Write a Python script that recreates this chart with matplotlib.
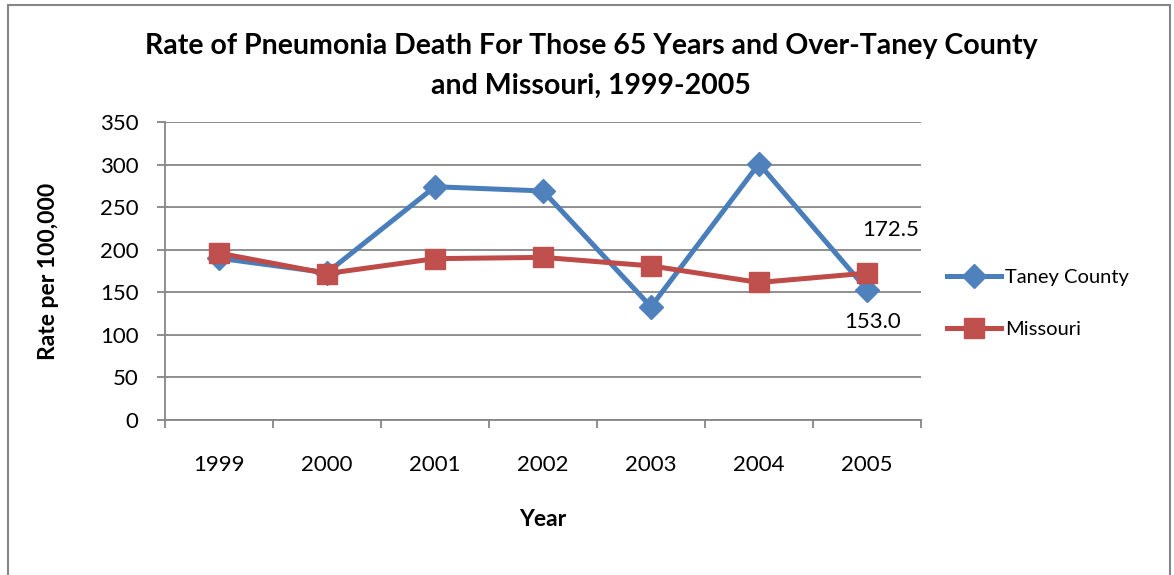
import matplotlib
matplotlib.use("Agg")
import matplotlib.pyplot as plt
from matplotlib.patches import Rectangle
import numpy as np

years = ["1999", "2000", "2001", "2002", "2003", "2004", "2005"]
taney = [190.0, 173.0, 274.0, 269.0, 133.0, 301.0, 153.0]
missouri = [196.0, 172.0, 189.5, 191.0, 181.0, 161.5, 172.5]
yticks = [0, 50, 100, 150, 200, 250, 300, 350]

plt.rcParams['font.family'] = ['Lato', 'DejaVu Sans']

fig = plt.figure(figsize=(11.74, 5.75), dpi=100)
fig.patch.set_facecolor('white')
fig.patches.append(Rectangle((8/1174, -0.05), (1170-8)/1174, 1 - 5/575 + 0.05,
                             transform=fig.transFigure, fill=False,
                             edgecolor='#868686', linewidth=1.5))

ax = fig.add_axes([165/1174, 1 - 420/575, (921-165)/1174, (420-122)/575])
x = np.arange(len(years))

ax.plot(x, taney, color='#4A7EBB', linewidth=3.6, marker='D', markersize=12,
        markerfacecolor='#4F81BD', markeredgecolor='#4F81BD', label='Taney County', zorder=3)
ax.plot(x, missouri, color='#BE4B48', linewidth=3.6, marker='s', markersize=14,
        markerfacecolor='#C0504D', markeredgecolor='#C0504D', label='Missouri', zorder=4)

ax.set_xlim(-0.5, len(years) - 0.5)
ax.set_ylim(0, 350)
ax.set_yticks(yticks)
ax.set_yticklabels([str(v) for v in yticks], fontsize=16)
ax.yaxis.grid(True, color='#868686', linewidth=1.3)
ax.set_axisbelow(True)

ax.set_xticks(x)
ax.set_xticklabels(years, fontsize=16)
ax.set_xticks(np.arange(-0.5, len(years)), minor=True)
ax.tick_params(axis='x', which='major', length=0, pad=25)
ax.tick_params(axis='x', which='minor', length=6, color='#868686', width=1.3, direction='out')
ax.tick_params(axis='y', length=6, color='#868686', width=1.3, pad=13)

for s in ['top', 'right']:
    ax.spines[s].set_visible(False)
ax.spines['left'].set_color('#868686')
ax.spines['left'].set_linewidth(1.3)
ax.spines['bottom'].set_color('#868686')
ax.spines['bottom'].set_linewidth(1.3)

ax.annotate(f"{missouri[-1]:.1f}", (x[-1], missouri[-1]), xytext=(17, 31),
            textcoords='offset points', ha='center', va='center', fontsize=16)
ax.annotate(f"{taney[-1]:.1f}", (x[-1], taney[-1]), xytext=(4, -23),
            textcoords='offset points', ha='center', va='center', fontsize=16)

ax.set_ylabel("Rate per 100,000", fontsize=16.5, fontweight='bold')
ax.yaxis.set_label_coords(-117/756, 0.5)
ax.set_xlabel("Year", fontsize=16.5, fontweight='bold')
ax.xaxis.set_label_coords(0.5, -100/298)
ax.xaxis.label.set_va('center')
ax.yaxis.label.set_va('center')

fig.text(591/1174, 1 - 66/575,
         "Rate of Pneumonia Death For Those 65 Years and Over-Taney County\nand Missouri, 1999-2005",
         ha='center', va='center', fontsize=20.5, fontweight='bold', linespacing=1.62)

leg = ax.legend(loc='center left', bbox_to_anchor=(1.01, 0.39), frameon=False,
                fontsize=14.5, handlelength=2.7, labelspacing=1.75, handletextpad=0.2)

fig.savefig("out.png", dpi=100)
